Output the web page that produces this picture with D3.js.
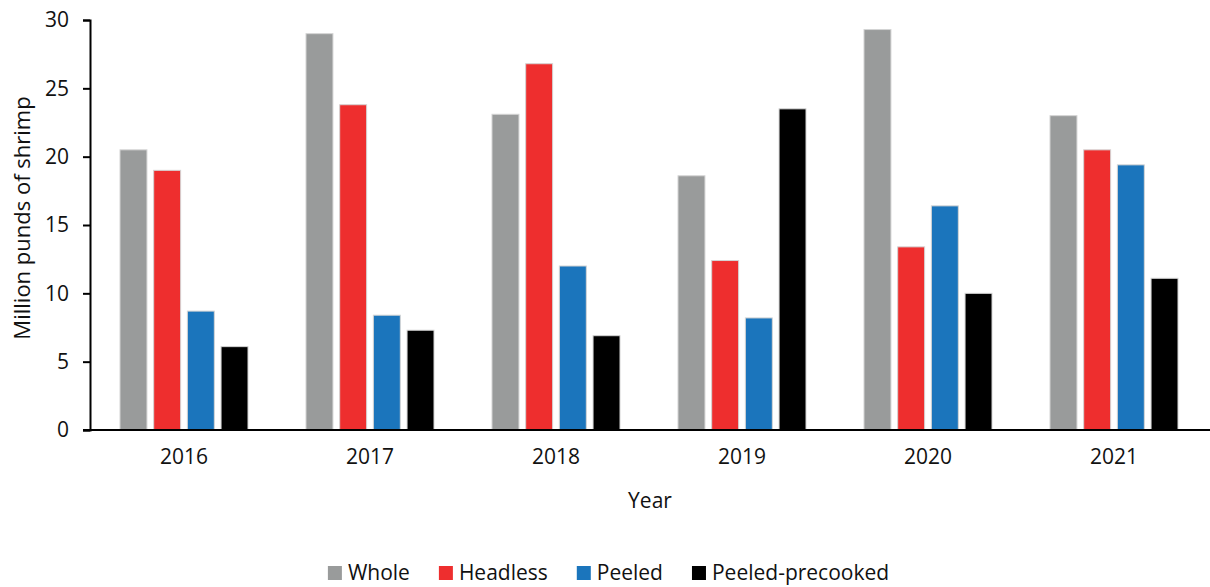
<!DOCTYPE html>
<html>
<head>
<meta charset="utf-8">
<script src="https://cdn.jsdelivr.net/npm/d3@7"></script>
<style>
  body { margin: 0; background: #fff; }
  text { font-family: "Open Sans", sans-serif; fill: #111; }
</style>
</head>
<body>
<div id="chart"></div>
<script>
// Shrimp by product form, million pounds

var years = ["2016", "2017", "2018", "2019", "2020", "2021"]
var series = ["Whole", "Headless", "Peeled", "Peeled-precooked"]
var whole = [20.5, 29.0, 23.1, 18.6, 29.3, 23.0]
var headless = [19.0, 23.8, 26.8, 12.4, 13.4, 20.5]
var peeled = [8.7, 8.4, 12.0, 8.2, 16.4, 19.4]
var precooked = [6.1, 7.3, 6.9, 23.5, 10.0, 11.1]
var yTicks = [0, 5, 10, 15, 20, 25, 30]
var colors = ["#999b9b", "#ee2e2e", "#1b75bc", "#000000"]

var width = 1210
var height = 587

var svg = d3.select("#chart")
  .append("svg")
    .attr("width", width)
    .attr("height", height)

// build rows from the arrays
var values = [whole, headless, peeled, precooked]
var data = years.map(function(y, i) {
  return { year: y, vals: series.map(function(s, j) { return { key: s, value: values[j][i] } }) }
})

var x0 = d3.scaleBand().domain(years).range([91, 1207]).padding(0)
var x1 = d3.scaleBand().domain(series).range([29, 157]).paddingInner(0.2).paddingOuter(0)
var y = d3.scaleLinear().domain([0, 30]).range([430, 20])
var color = d3.scaleOrdinal().domain(series).range(colors)

// bars
svg.append("g")
  .selectAll("g")
  .data(data)
  .enter()
  .append("g")
    .attr("transform", function(d) { return "translate(" + x0(d.year) + ",0)" })
  .selectAll("rect")
  .data(function(d) { return d.vals })
  .enter()
  .append("rect")
    .attr("x", function(d) { return x1(d.key) })
    .attr("width", x1.bandwidth())
    .attr("y", function(d) { return y(d.value) })
    .attr("height", function(d) { return y(0) - y(d.value) })
    .style("fill", function(d) { return color(d.key) })
    .attr("stroke", "#d4d4d4")
    .style("stroke-width", 1)

// y axis
var yAxis = svg.append("g")
  .attr("transform", "translate(90,0)")
  .call(d3.axisLeft(y).tickValues(yTicks).tickSize(7).tickPadding(14))
yAxis.select(".domain").attr("stroke", "#000").attr("stroke-width", 2)
yAxis.selectAll(".tick line").attr("stroke", "#000").attr("stroke-width", 2)
yAxis.selectAll("text").style("font-size", "21px").style("font-family", "Open Sans")

// x axis
var xAxis = svg.append("g")
  .attr("transform", "translate(0,430)")
  .call(d3.axisBottom(x0).tickSize(0).tickPadding(19))
xAxis.select(".domain").attr("d", "M83,0H1210").attr("stroke", "#000").attr("stroke-width", 2)
xAxis.selectAll("text").style("font-size", "21px").style("font-family", "Open Sans")

// axis titles
svg.append("text")
  .attr("transform", "translate(30,218) rotate(-90)")
  .attr("text-anchor", "middle")
  .style("font-size", "22px")
  .text("Million punds of shrimp")

svg.append("text")
  .attr("x", 650)
  .attr("y", 508)
  .attr("text-anchor", "middle")
  .style("font-size", "21px")
  .text("Year")

// legend
var legend = svg.append("g")
var lx = 0
series.forEach(function(s, i) {
  var g = legend.append("g").attr("transform", "translate(" + lx + ",0)")
  g.append("rect")
    .attr("x", 0).attr("y", 566)
    .attr("width", 14).attr("height", 14)
    .style("fill", color(s))
  var t = g.append("text")
    .attr("x", 20).attr("y", 580)
    .style("font-size", "21px")
    .text(s)
  lx += 20 + t.node().getComputedTextLength() + 29
})
var lw = lx - 29
legend.attr("transform", "translate(" + (608.5 - lw / 2) + ",0)")
</script>
</body>
</html>
